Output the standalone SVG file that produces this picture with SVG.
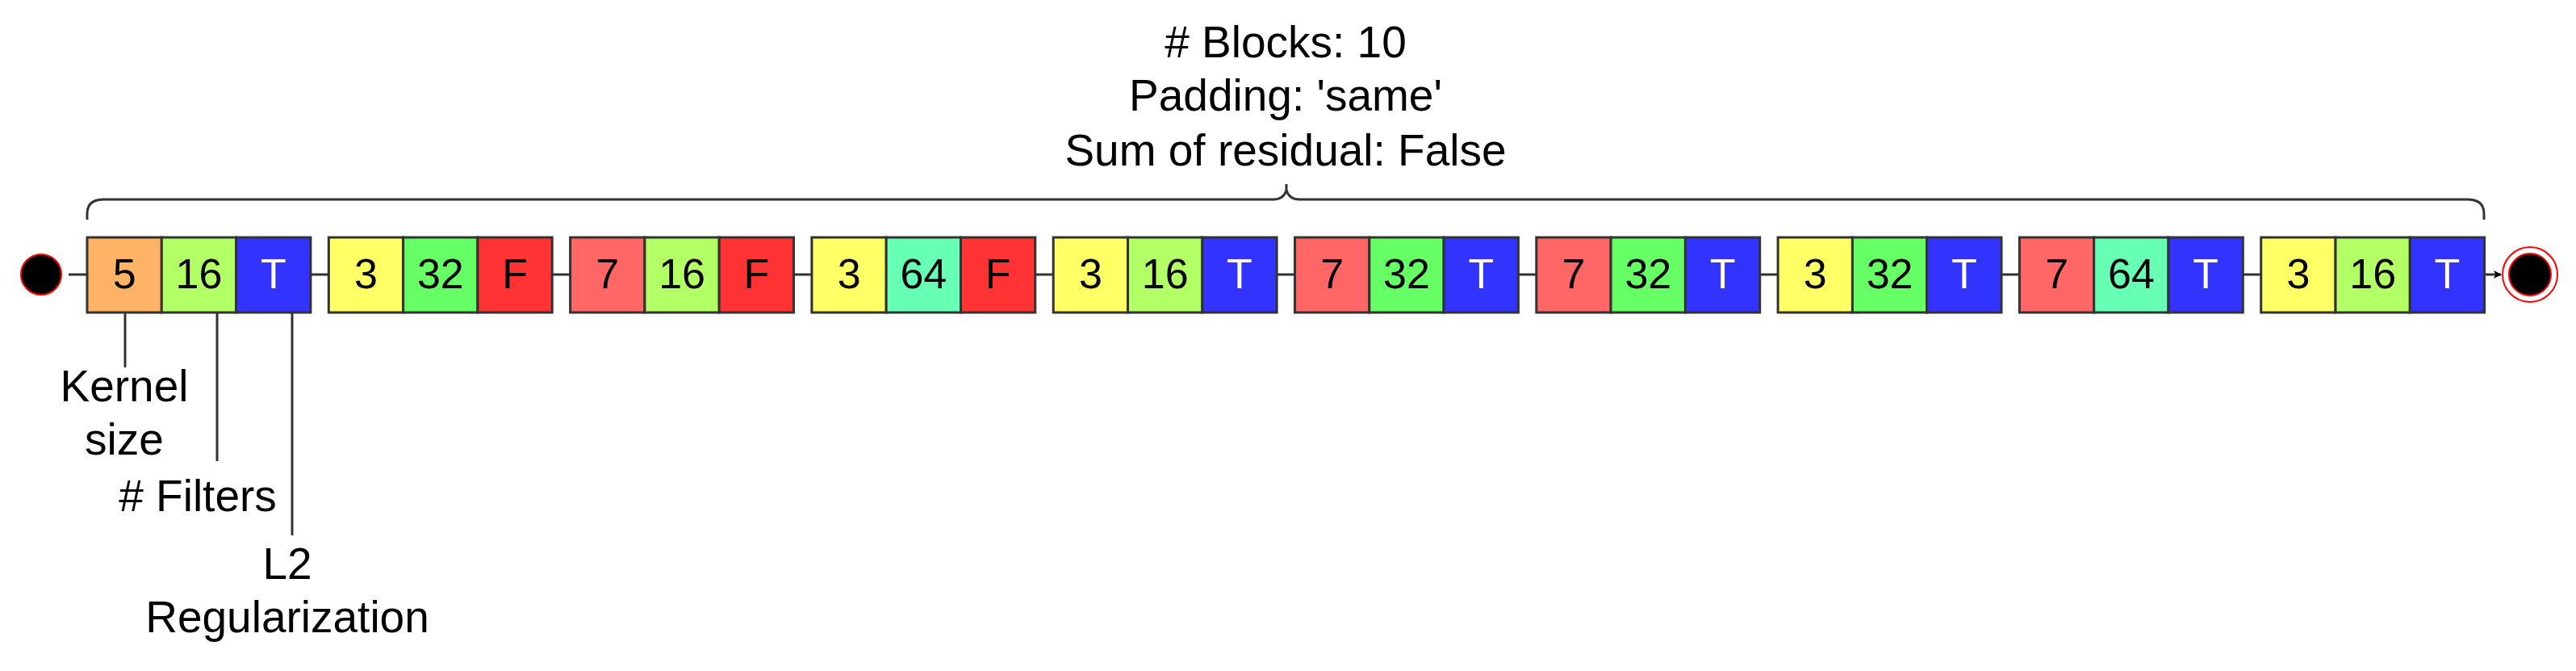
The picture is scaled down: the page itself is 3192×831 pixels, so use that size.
<svg xmlns="http://www.w3.org/2000/svg" width="3192" height="831" viewBox="0 0 3192 831">
<style>
.c{stroke:#333333;stroke-width:3}
.t{font-family:"Liberation Sans",Arial,Helvetica,sans-serif;font-size:52px;text-anchor:middle;fill:#000}
.w{fill:#ffffff}
.lbl{font-family:"Liberation Sans",Arial,Helvetica,sans-serif;font-size:55px;text-anchor:middle;fill:#000}
.ln{stroke:#333333;stroke-width:3;fill:none}
.or{fill:#FFB366}.lg{fill:#B3FF66}.bl{fill:#3333FF}.ye{fill:#FFFF66}.gr{fill:#66FF66}.rd{fill:#FF3333}.sa{fill:#FF6666}.te{fill:#66FFB3}
</style>
<defs>
<marker id="arr" markerWidth="10" markerHeight="10" refX="9" refY="5" orient="auto" markerUnits="userSpaceOnUse" viewBox="0 0 10 10">
<path d="M0,0 L10,5 L0,10 L2.5,5 Z" fill="#000"/>
</marker>
</defs>
<rect width="3192" height="831" fill="#fff"/>

<g id="title">
<text class="lbl" x="1593" y="71">
# Blocks: 10</text>
<text class="lbl" x="1593" y="137">Padding: 'same'</text>
<text class="lbl" x="1593" y="205">Sum of residual: False</text>
</g>

<g id="connectors">
<path class="ln" d="M108,272 L108,265 Q108,247 128,247 L1578,247 Q1590,247 1594,236 Q1598,247 1610,247 L3058,247 Q3078,247 3078,265 L3078,272"/>
<line class="ln" x1="1594" y1="228" x2="1594" y2="238"/>
<line class="ln" x1="85" y1="340" x2="108" y2="340"/>
<line class="ln" x1="385" y1="340" x2="407.3" y2="340"/>
<line class="ln" x1="684.3" y1="340" x2="706.6" y2="340"/>
<line class="ln" x1="983.6" y1="340" x2="1005.9" y2="340"/>
<line class="ln" x1="1282.9" y1="340" x2="1305.2" y2="340"/>
<line class="ln" x1="1582.2" y1="340" x2="1604.5" y2="340"/>
<line class="ln" x1="1881.5" y1="340" x2="1903.8" y2="340"/>
<line class="ln" x1="2180.8" y1="340" x2="2203.1" y2="340"/>
<line class="ln" x1="2480.1" y1="340" x2="2502.4" y2="340"/>
<line class="ln" x1="2779.4" y1="340" x2="2801.7" y2="340"/>
<line class="ln" x1="3078.7" y1="340" x2="3099" y2="340" marker-end="url(#arr)"/>
<line class="ln" x1="155" y1="387" x2="155" y2="455"/>
<line class="ln" x1="269" y1="387" x2="269" y2="571"/>
<line class="ln" x1="362" y1="387" x2="362" y2="663"/>
</g>

<g id="start">
<circle cx="51" cy="340" r="25" fill="#000" stroke="#FF0000" stroke-width="2"/>
</g>

<g id="end">
<circle cx="3135" cy="340" r="34" fill="#fff" stroke="#FF0000" stroke-width="2"/>
<circle cx="3135" cy="340" r="26" fill="#000" stroke="#FF0000" stroke-width="2"/>
</g>

<g id="block1" transform="translate(108,0)">
<rect class="c or" x="0" y="294" width="92.3" height="93"/>
<rect class="c lg" x="92.3" y="294" width="92.3" height="93"/>
<rect class="c bl" x="184.6" y="294" width="92.3" height="93"/>
<text class="t" x="46.2" y="357">5</text><text class="t" x="138.5" y="357">16</text><text class="t w" x="230.8" y="357">T</text>
</g>
<g id="block2" transform="translate(407.3,0)">
<rect class="c ye" x="0" y="294" width="92.3" height="93"/>
<rect class="c gr" x="92.3" y="294" width="92.3" height="93"/>
<rect class="c rd" x="184.6" y="294" width="92.3" height="93"/>
<text class="t" x="46.2" y="357">3</text><text class="t" x="138.5" y="357">32</text><text class="t" x="230.8" y="357">F</text>
</g>
<g id="block3" transform="translate(706.6,0)">
<rect class="c sa" x="0" y="294" width="92.3" height="93"/>
<rect class="c lg" x="92.3" y="294" width="92.3" height="93"/>
<rect class="c rd" x="184.6" y="294" width="92.3" height="93"/>
<text class="t" x="46.2" y="357">7</text><text class="t" x="138.5" y="357">16</text><text class="t" x="230.8" y="357">F</text>
</g>
<g id="block4" transform="translate(1005.9,0)">
<rect class="c ye" x="0" y="294" width="92.3" height="93"/>
<rect class="c te" x="92.3" y="294" width="92.3" height="93"/>
<rect class="c rd" x="184.6" y="294" width="92.3" height="93"/>
<text class="t" x="46.2" y="357">3</text><text class="t" x="138.5" y="357">64</text><text class="t" x="230.8" y="357">F</text>
</g>
<g id="block5" transform="translate(1305.2,0)">
<rect class="c ye" x="0" y="294" width="92.3" height="93"/>
<rect class="c lg" x="92.3" y="294" width="92.3" height="93"/>
<rect class="c bl" x="184.6" y="294" width="92.3" height="93"/>
<text class="t" x="46.2" y="357">3</text><text class="t" x="138.5" y="357">16</text><text class="t w" x="230.8" y="357">T</text>
</g>
<g id="block6" transform="translate(1604.5,0)">
<rect class="c sa" x="0" y="294" width="92.3" height="93"/>
<rect class="c gr" x="92.3" y="294" width="92.3" height="93"/>
<rect class="c bl" x="184.6" y="294" width="92.3" height="93"/>
<text class="t" x="46.2" y="357">7</text><text class="t" x="138.5" y="357">32</text><text class="t w" x="230.8" y="357">T</text>
</g>
<g id="block7" transform="translate(1903.8,0)">
<rect class="c sa" x="0" y="294" width="92.3" height="93"/>
<rect class="c gr" x="92.3" y="294" width="92.3" height="93"/>
<rect class="c bl" x="184.6" y="294" width="92.3" height="93"/>
<text class="t" x="46.2" y="357">7</text><text class="t" x="138.5" y="357">32</text><text class="t w" x="230.8" y="357">T</text>
</g>
<g id="block8" transform="translate(2203.1,0)">
<rect class="c ye" x="0" y="294" width="92.3" height="93"/>
<rect class="c gr" x="92.3" y="294" width="92.3" height="93"/>
<rect class="c bl" x="184.6" y="294" width="92.3" height="93"/>
<text class="t" x="46.2" y="357">3</text><text class="t" x="138.5" y="357">32</text><text class="t w" x="230.8" y="357">T</text>
</g>
<g id="block9" transform="translate(2502.4,0)">
<rect class="c sa" x="0" y="294" width="92.3" height="93"/>
<rect class="c te" x="92.3" y="294" width="92.3" height="93"/>
<rect class="c bl" x="184.6" y="294" width="92.3" height="93"/>
<text class="t" x="46.2" y="357">7</text><text class="t" x="138.5" y="357">64</text><text class="t w" x="230.8" y="357">T</text>
</g>
<g id="block10" transform="translate(2801.7,0)">
<rect class="c ye" x="0" y="294" width="92.3" height="93"/>
<rect class="c lg" x="92.3" y="294" width="92.3" height="93"/>
<rect class="c bl" x="184.6" y="294" width="92.3" height="93"/>
<text class="t" x="46.2" y="357">3</text><text class="t" x="138.5" y="357">16</text><text class="t w" x="230.8" y="357">T</text>
</g>

<g id="label-kernel">
<text class="lbl" x="154" y="497">Kernel</text>
<text class="lbl" x="154" y="563">size</text>
</g>
<g id="label-filters">
<text class="lbl" x="245" y="633"># Filters</text>
</g>
<g id="label-l2">
<text class="lbl" x="356" y="717">L2</text>
<text class="lbl" x="356" y="783">Regularization</text>
</g>
</svg>
